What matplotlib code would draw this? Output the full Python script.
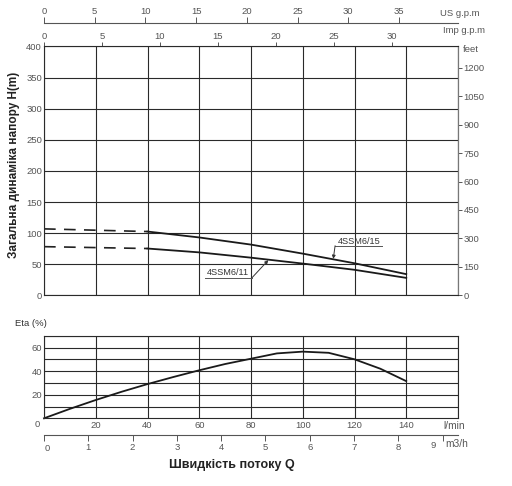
import matplotlib.pyplot as plt
import numpy as np

plt.rcParams['font.family'] = ['Liberation Sans', 'DejaVu Sans']

# head curves (l/min, m)
q_dash = [0, 40]
h15_dash = [106.8, 102.5]
h11_dash = [78.2, 75.2]
q_head = [40, 60, 80, 100, 120, 140]
h15 = [102.5, 93, 81.5, 67, 51.5, 34]
h11 = [75.2, 69, 60.5, 51, 41, 28]

# efficiency curve
q_eta = [0, 10, 20, 30, 40, 50, 60, 70, 80, 90, 100, 110, 120, 130, 140]
eta = [0, 8, 15.5, 22.5, 29, 35, 40.7, 46, 50.5, 55, 56.5, 55.5, 50, 42, 31.5]

lmin_ticks = [0, 20, 40, 60, 80, 100, 120, 140, 160]
h_ticks = [0, 50, 100, 150, 200, 250, 300, 350, 400]
feet_ticks = [0, 150, 300, 450, 600, 750, 900, 1050, 1200]
us_ticks = [0, 5, 10, 15, 20, 25, 30, 35]
imp_ticks = [0, 5, 10, 15, 20, 25, 30]
m3h_ticks = [0, 1, 2, 3, 4, 5, 6, 7, 8, 9]
eta_grid = [10, 20, 30, 40, 50, 60, 70]

# scale factors as drawn on the sheet
US = 3.92
IMP = 4.48
M3H = 17.12
FT = 0.3048

W, H = 512, 486
grid_c = '#2a2a2a'
tick_c = '#555555'
fs = 6.8

fig = plt.figure(figsize=(W / 100, H / 100), dpi=100)

def px(x, y):
    return x / W, 1 - y / H

# ---------------- head chart
ax1 = fig.add_axes([44 / W, 1 - 295.3 / H, 414 / W, 248.8 / H])
ax1.set_xlim(0, 160)
ax1.set_ylim(0, 400)
ax1.set_xticks(lmin_ticks)
ax1.set_yticks(h_ticks)
ax1.set_xticklabels([])
ax1.grid(True, color=grid_c, lw=0.8)
ax1.tick_params(axis='x', length=0)
ax1.tick_params(axis='y', length=0, pad=1.5, labelsize=fs, labelcolor=tick_c)
for s in ax1.spines.values():
    s.set_color(grid_c)
    s.set_linewidth(0.8)
ax1.spines['right'].set_color('#777777')

ax1.plot(q_dash, h15_dash, color='#222222', lw=1.2, dashes=(7, 5))
ax1.plot(q_dash, h11_dash, color='#222222', lw=1.2, dashes=(7, 5))
ax1.plot(q_head, h15, color='#1a1a1a', lw=1.3)
ax1.plot(q_head, h11, color='#1a1a1a', lw=1.3)

# curve labels with leaders
ax1.text(113.6, 87, '4SSM6/15', fontsize=6.6, color='#333333', va='center', ha='left')
ax1.plot([112.5, 130.6], [79.7, 79.7], color='#555555', lw=0.7)
ax1.annotate('', xy=(111.8, 58.5), xytext=(112.5, 79.7),
             arrowprops=dict(arrowstyle='-|>', color='#333333', lw=0.7,
                             mutation_scale=5, shrinkA=0, shrinkB=0))
ax1.text(63, 35.9, '4SSM6/11', fontsize=6.6, color='#333333', va='center', ha='left')
ax1.plot([62.2, 80.4], [28.3, 28.3], color='#555555', lw=0.7)
ax1.annotate('', xy=(86.7, 56.5), xytext=(80.4, 28.3),
             arrowprops=dict(arrowstyle='-|>', color='#333333', lw=0.7,
                             mutation_scale=5, shrinkA=0, shrinkB=0))

# feet axis on the right
feet = ax1.secondary_yaxis('right', functions=(lambda m: m / FT, lambda f: f * FT))
feet.set_yticks(feet_ticks)
feet.tick_params(length=3, width=0.7, color=tick_c, pad=1, labelsize=fs, labelcolor=tick_c)
feet.spines['right'].set_color('#777777')

# Imp gpm on top spine
imp = ax1.secondary_xaxis('top', functions=(lambda q: q / IMP, lambda g: g * IMP))
imp.set_xticks(imp_ticks)
imp.tick_params(length=3, width=0.7, color=tick_c, pad=1, labelsize=fs, labelcolor=tick_c)
imp.spines['top'].set_visible(False)

# US gpm raised scale
us = ax1.secondary_xaxis(1 + 23.5 / 248.8, functions=(lambda q: q / US, lambda g: g * US))
us.set_xticks(us_ticks)
us.tick_params(length=4, width=0.7, color=tick_c, pad=1, labelsize=fs, labelcolor=tick_c)
us.spines['top'].set_color(tick_c)
us.spines['top'].set_linewidth(0.8)

fig.text(*px(440, 13), 'US g.p.m', fontsize=fs, color=tick_c, va='center', ha='left')
fig.text(*px(443, 30), 'Imp g.p.m', fontsize=fs, color=tick_c, va='center', ha='left')
fig.text(*px(463, 50), 'feet', fontsize=fs, color=tick_c, va='center', ha='left')
fig.text(*px(14, 165), 'Загальна динаміка напору H(m)', fontsize=8.5, fontweight='bold',
         color='#222222', rotation=90, va='center', ha='center')

# ---------------- efficiency chart
ax2 = fig.add_axes([44 / W, 1 - 418.3 / H, 414 / W, 82.6 / H])
ax2.set_xlim(0, 160)
ax2.set_ylim(0, 70)
ax2.set_xticks(lmin_ticks)
ax2.set_xticklabels([''] + [str(v) for v in lmin_ticks[1:-1]] + [''])
ax2.set_yticks(eta_grid)
ax2.set_yticklabels([str(v) if v in (20, 40, 60) else '' for v in eta_grid])
ax2.grid(True, color=grid_c, lw=0.8)
ax2.tick_params(length=0, pad=2, labelsize=fs, labelcolor=tick_c)
ax2.tick_params(axis='y', pad=1.5)
for s in ax2.spines.values():
    s.set_color(grid_c)
    s.set_linewidth(0.8)
ax2.plot(q_eta, eta, color='#1a1a1a', lw=1.3, clip_on=False)

# m3/h scale below; end labels placed by hand like on the sheet
m3h = ax2.secondary_xaxis(-17 / 82.6, functions=(lambda q: q / M3H, lambda m: m * M3H))
m3h.set_xticks(m3h_ticks)
m3h.set_xticklabels([str(v) if 0 < v < 9 else '' for v in m3h_ticks])
m3h.tick_params(length=4, width=0.7, color=tick_c, pad=1.5, labelsize=fs, labelcolor=tick_c)
m3h.spines['bottom'].set_color(tick_c)
m3h.spines['bottom'].set_linewidth(0.8)
fig.text(*px(47, 448), '0', fontsize=fs, color=tick_c, va='center', ha='center')
fig.text(*px(433, 445), '9', fontsize=fs, color=tick_c, va='center', ha='center')

fig.text(*px(37, 424), '0', fontsize=fs, color=tick_c, va='center', ha='center')
fig.text(*px(443, 426), 'l/min', fontsize=fs + 0.5, color=tick_c, va='center', ha='left')
fig.text(*px(445, 444), 'm3/h', fontsize=fs + 0.5, color=tick_c, va='center', ha='left')
fig.text(*px(15, 323), 'Eta (%)', fontsize=fs, color='#333333', va='center', ha='left')
fig.text(*px(232, 465), 'Швидкість потоку Q', fontsize=9, fontweight='bold',
         color='#222222', va='center', ha='center')

fig.savefig('out.png', dpi=100)
